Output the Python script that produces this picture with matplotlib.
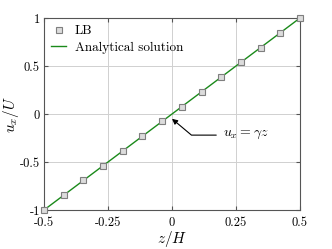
import matplotlib
matplotlib.use("Agg")
import matplotlib.pyplot as plt

# LB nodes
z_lb = [-0.5, -0.4231, -0.3462, -0.2692, -0.1923, -0.1154, -0.0385,
        0.0385, 0.1154, 0.1923, 0.2692, 0.3462, 0.4231, 0.5]
u_lb = [-1.0, -0.8462, -0.6923, -0.5385, -0.3846, -0.2308, -0.0769,
        0.0769, 0.2308, 0.3846, 0.5385, 0.6923, 0.8462, 1.0]
# analytical
z_an = [-0.5, 0.5]
u_an = [-1.0, 1.0]

xticks = [-0.5, -0.25, 0, 0.25, 0.5]
xticklabels = ["-0.5", "-0.25", "0", "0.25", "0.5"]
yticks = [-1, -0.5, 0, 0.5, 1]
yticklabels = ["-1", "-0.5", "0", "0.5", "1"]

plt.rcParams["font.family"] = "cmr10"
plt.rcParams["mathtext.fontset"] = "cm"
plt.rcParams["font.size"] = 9.5

fig = plt.figure(figsize=(3.32, 2.49), dpi=100)
ax = fig.add_axes([44/332, 1-210/249, 256/332, 192/249])

ax.plot(z_lb, u_lb, "s", ms=3.8, mfc="#dcdcdc", mec="#7f7f7f", mew=0.8,
        label="LB", zorder=3, clip_on=False)
ax.plot(z_an, u_an, "-", color="#1a8a1a", lw=1.0, label="Analytical solution",
        zorder=2)

ax.set_xlim(-0.5, 0.5)
ax.set_ylim(-1, 1)
ax.set_xticks(xticks)
ax.set_xticklabels(xticklabels)
ax.set_yticks(yticks)
ax.set_yticklabels(yticklabels)
ax.tick_params(direction="in", top=True, right=True, length=3,
               color="#555555", labelsize=9, pad=3)
ax.tick_params(axis="x", pad=5)
for s in ax.spines.values():
    s.set_color("#555555")
    s.set_linewidth(0.8)
ax.grid(True, color="#d0d0d0", lw=0.7)
ax.set_axisbelow(True)

ax.set_xlabel(r"$z/H$", fontsize=11, labelpad=0)
ax.set_ylabel(r"$u_x/U$", fontsize=11)
ax.yaxis.set_label_coords(-0.09, 0.5)

ax.annotate(r"$u_x = \gamma z$", xy=(0, -0.05), xytext=(0.2, -0.22),
            va="center", ha="left", fontsize=10,
            arrowprops=dict(arrowstyle="-|>", color="black", lw=0.8,
                            mutation_scale=8, shrinkA=3, shrinkB=0,
                            connectionstyle="angle,angleA=0,angleB=-40,rad=0"))

ax.legend(loc="upper left", frameon=False, handlelength=1.1,
          handletextpad=0.7, borderaxespad=0.15, labelspacing=0.3,
          fontsize=9.5)

fig.savefig("out.png", dpi=100)
